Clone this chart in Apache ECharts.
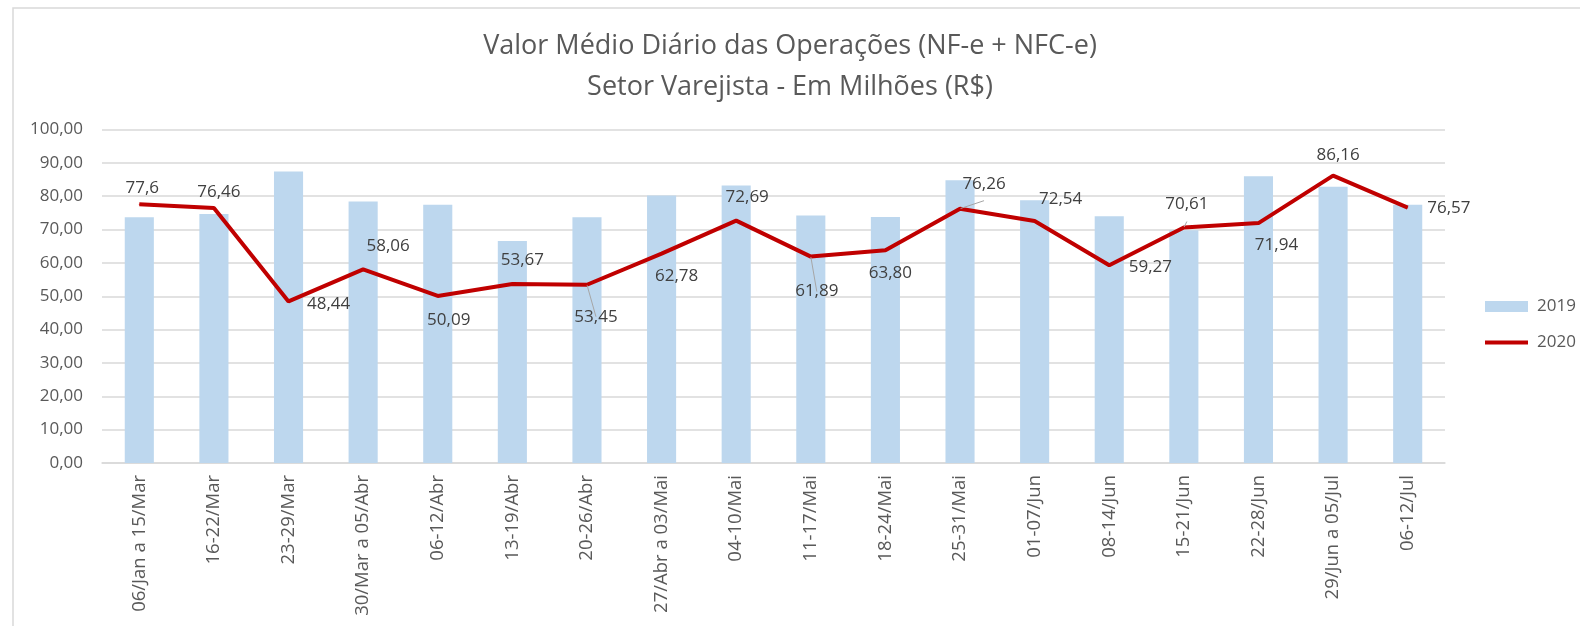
<!DOCTYPE html>
<html>
<head>
<meta charset="utf-8">
<script src="https://cdn.jsdelivr.net/npm/echarts@6/dist/echarts.min.js"></script>
<style>
html,body{margin:0;padding:0;background:#fff;}
#chart{width:1580px;height:626px;}
</style>
</head>
<body>
<div id="chart"></div>
<script>
const categories = ['06/Jan a 15/Mar','16-22/Mar','23-29/Mar','30/Mar a 05/Abr','06-12/Abr','13-19/Abr','20-26/Abr','27/Abr a 03/Mai','04-10/Mai','11-17/Mai','18-24/Mai','25-31/Mai','01-07/Jun','08-14/Jun','15-21/Jun','22-28/Jun','29/Jun a 05/Jul','06-12/Jul'];
const values2019 = [73.7, 74.7, 87.4, 78.4, 77.4, 66.6, 73.7, 80.2, 83.2, 74.2, 73.8, 84.8, 78.8, 74.0, 69.8, 86.0, 82.8, 77.4];
const values2020 = [77.6, 76.46, 48.44, 58.06, 50.09, 53.67, 53.45, 62.78, 72.69, 61.89, 63.80, 76.26, 72.54, 59.27, 70.61, 71.94, 86.16, 76.57];
const decimals2020 = [1, 2, 2, 2, 2, 2, 2, 2, 2, 2, 2, 2, 2, 2, 2, 2, 2, 2];
const yTicks = [0, 10, 20, 30, 40, 50, 60, 70, 80, 90, 100];

// label placement per point: [position, dx, dy, leaderLine]
const labelPlace = [
  ['top', 3, -2, false], ['top', 5, -2, false], ['right', 13, 3, false], ['top', 25, -9, false],
  ['bottom', 11, 10, false], ['top', 10, -10, false], ['bottom', 9, 18, true], ['bottom', 15, 9, false],
  ['top', 11, -9, false], ['bottom', 6, 21, true], ['bottom', 5, 9, false], ['top', 24, -11, true],
  ['top', 26, -8, false], ['right', 14, 2, false], ['top', 3, -9, true], ['bottom', 18, 8, false],
  ['top', 5, -7, false], ['right', 14, 1, false]
];

const FONT = '"Open Sans", "Liberation Sans", sans-serif';
const chart = echarts.init(document.getElementById('chart'));

const lineData = values2020.map((v, i) => ({
  value: v,
  label: { position: labelPlace[i][0], offset: [labelPlace[i][1], labelPlace[i][2]] },
  labelLine: { show: labelPlace[i][3], lineStyle: { color: '#a6a6a6', width: 1 } }
}));

chart.setOption({
  backgroundColor: '#ffffff',
  animation: false,
  graphic: [{
    type: 'rect', silent: true, z: -10,
    shape: { x: 13, y: 8, width: 1600, height: 700 },
    style: { fill: 'none', stroke: '#d9d9d9', lineWidth: 1.5 }
  }],
  title: {
    text: 'Valor Médio Diário das Operações (NF-e + NFC-e)\nSetor Varejista - Em Milhões (R$)',
    left: 'center',
    top: 21,
    textStyle: { fontFamily: FONT, fontSize: 27, fontWeight: 'normal', color: '#595959', lineHeight: 41 }
  },
  legend: {
    orient: 'vertical',
    left: 1478,
    top: 293,
    itemWidth: 43,
    itemHeight: 11,
    itemGap: 19,
    textStyle: { fontFamily: FONT, fontSize: 17, color: '#595959', padding: [0, 0, 0, 4] },
    data: [
      { name: '2019', icon: 'rect' },
      { name: '2020', itemStyle: { opacity: 0 }, lineStyle: { width: 4, color: '#C00000' } }
    ]
  },
  grid: { left: 102, right: 135, top: 129.5, bottom: 163, containLabel: false },
  xAxis: {
    type: 'category',
    data: categories,
    axisLine: { lineStyle: { color: '#d9d9d9', width: 1.5 } },
    axisTick: { show: false },
    axisLabel: { rotate: 90, interval: 0, margin: 12, fontFamily: FONT, fontSize: 18.5, color: '#595959' }
  },
  yAxis: {
    type: 'value',
    min: yTicks[0],
    max: yTicks[yTicks.length - 1],
    interval: yTicks[1] - yTicks[0],
    axisLine: { show: false },
    axisTick: { show: false },
    splitLine: { lineStyle: { color: '#d9d9d9', width: 1.5 } },
    axisLabel: {
      margin: 19, fontFamily: FONT, fontSize: 17, color: '#595959',
      formatter: v => v.toFixed(2).replace('.', ',')
    }
  },
  series: [
    {
      name: '2019',
      type: 'bar',
      data: values2019,
      barWidth: '39%',
      itemStyle: { color: '#BDD7EE' }
    },
    {
      name: '2020',
      type: 'line',
      data: lineData,
      symbol: 'circle',
      symbolSize: 1,
      showSymbol: true,
      showAllSymbol: true,
      z: 5,
      lineStyle: { color: '#C00000', width: 4 },
      itemStyle: { color: '#C00000' },
      label: {
        show: true,
        distance: 5,
        fontFamily: FONT,
        fontSize: 17,
        color: '#404040',
        formatter: p => p.value.toFixed(decimals2020[p.dataIndex]).replace('.', ',')
      }
    }
  ]
});
</script>
</body>
</html>
